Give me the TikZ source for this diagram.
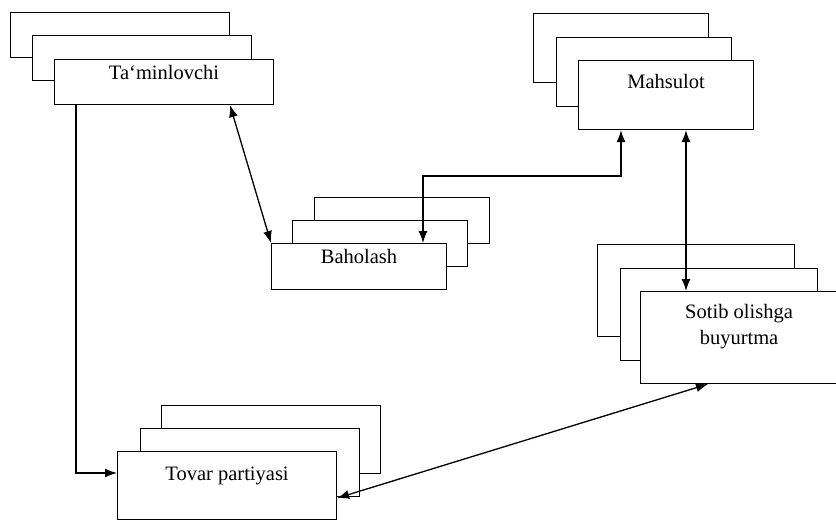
\documentclass[tikz,border=0pt]{standalone}
\usepackage{fontspec}
\setmainfont{Liberation Serif}
\usetikzlibrary{positioning,calc,arrows.meta}

\begin{document}
\begin{tikzpicture}[x=1pt,y=-1pt,
  >={Latex[length=12pt,width=9pt]},
  sheet/.style={draw, fill=white, line width=1.1pt, anchor=north west, inner sep=0pt,
    align=center, text depth=20pt, font=\fontsize{20.5}{26}\selectfont},
  taminbox/.style={sheet, minimum width=219pt, minimum height=45pt},
  mahsbox/.style={sheet, minimum width=175pt, minimum height=69pt},
  bahobox/.style={sheet, minimum width=175pt, minimum height=46pt},
  sotibbox/.style={sheet, minimum width=197pt, minimum height=92pt},
  tovarbox/.style={sheet, minimum width=219pt, minimum height=68pt},
  link/.style={line width=1.3pt}]

 \useasboundingbox (0,0) rectangle (836,520);

 % Ta`minlovchi
 \node[taminbox] (taminC) at (10,12) {};
 \node[taminbox] (taminB) at (32,35) {};
 \node[taminbox] (tamin) at (54,59) {Ta`minlovchi};

 % Mahsulot
 \node[mahsbox] (mahsC) at (533,13) {};
 \node[mahsbox] (mahsB) at (556,37) {};
 \node[mahsbox, text depth=27pt] (mahs) at (578,60) {Mahsulot};

 % Baholash
 \node[bahobox] (bahoC) at (314,197) {};
 \node[bahobox] (bahoB) at (292,220) {};
 \node[bahobox] (baho) at (271,243) {Baholash};

 % Sotib olishga buyurtma
 \node[sotibbox] (sotibC) at (597,244) {};
 \node[sotibbox] (sotibB) at (620,268) {};
 \node[sotibbox, text depth=26pt] (sotib) at (640,291) {Sotib olishga\\buyurtma};

 % Tovar partiyasi
 \node[tovarbox] (tovarC) at (161,405) {};
 \node[tovarbox] (tovarB) at (140,428) {};
 \node[tovarbox, text depth=24pt] (tovar) at (117,451) {Tovar partiyasi};

 \draw[link, ->] ($(tamin.south west)+(22,0)$) |- ($(tovar.north west)+(0,22)$);
 \draw[link, <->] ($(tamin.south west)+(176,0)$) -- (baho.north west);
 \draw[link, <->] ($(mahs.south west)+(43,0)$) -- ++(0,46) -| ($(baho.north west)+(152,0)$);
 \draw[link, <->] ($(mahs.south west)+(108,0)$) coordinate (mdown) -- (mdown |- sotib.north);
 \draw[link, <->] ($(tovar.south east)+(0,-22)$) -- ($(sotib.south west)+(68,0)$);

\end{tikzpicture}
\end{document}
